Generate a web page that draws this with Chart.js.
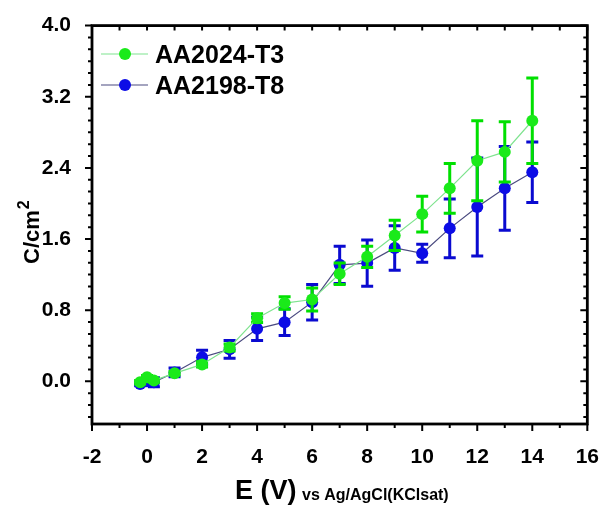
<!DOCTYPE html>
<html>
<head>
<meta charset="utf-8">
<script src="https://cdn.jsdelivr.net/npm/chart.js@4.4.1/dist/chart.umd.min.js"></script>
<style>
  html, body { margin: 0; padding: 0; background: #fff; }
  #wrap { position: relative; width: 612px; height: 513px; }
</style>
</head>
<body>
<div id="wrap"><canvas id="chart" width="612" height="513"></canvas></div>
<script>
// data
const potentials = [-0.25, 0, 0.25, 1, 2, 3, 4, 5, 6, 7, 8, 9, 10, 11, 12, 13, 14];
const cAA2024 = [-0.01, 0.045, 0.01, 0.09, 0.19, 0.38, 0.71, 0.88, 0.92, 1.21, 1.40, 1.64, 1.88, 2.17, 2.48, 2.58, 2.93];
const errAA2024 = [0.02, 0.02, 0.02, 0.02, 0.03, 0.04, 0.05, 0.07, 0.13, 0.12, 0.12, 0.17, 0.20, 0.28, 0.45, 0.34, 0.48];
const cAA2198 = [-0.03, 0.0, -0.01, 0.10, 0.27, 0.36, 0.59, 0.665, 0.89, 1.31, 1.33, 1.50, 1.44, 1.72, 1.96, 2.17, 2.35];
const errAA2198 = [0.02, 0.02, 0.05, 0.05, 0.08, 0.10, 0.13, 0.15, 0.20, 0.21, 0.26, 0.25, 0.10, 0.33, 0.55, 0.47, 0.34];
const xTicks = [-2, 0, 2, 4, 6, 8, 10, 12, 14, 16];
const yTicks = [0.0, 0.8, 1.6, 2.4, 3.2, 4.0];
const seriesNames = ['AA2024-T3', 'AA2198-T8'];

const FONT = "'Liberation Sans', Arial, sans-serif";
const GREEN = '#1aea1a';
const BLUE = '#0c0ce6';

const toPoints = (ys) => ys.map((y, i) => ({ x: potentials[i], y: y }));

// error bars, drawn under each dataset's own points
const errorBars = {
  id: 'errorBars',
  beforeDatasetDraw(chart, args) {
    const ds = chart.data.datasets[args.index];
    if (!ds.errors) return;
    const ctx = chart.ctx, xs = chart.scales.x, ys = chart.scales.y;
    ctx.save();
    ctx.strokeStyle = ds.errColor;
    ctx.lineWidth = 3;
    ds.data.forEach((p, i) => {
      const e = ds.errors[i];
      const px = xs.getPixelForValue(p.x);
      const top = ys.getPixelForValue(p.y + e);
      const bot = ys.getPixelForValue(p.y - e);
      ctx.beginPath();
      ctx.moveTo(px, top); ctx.lineTo(px, bot);
      ctx.moveTo(px - 6, top); ctx.lineTo(px + 6, top);
      ctx.moveTo(px - 6, bot); ctx.lineTo(px + 6, bot);
      ctx.stroke();
    });
    ctx.restore();
  }
};

// box frame, minor ticks, legend and axis titles
const decor = {
  id: 'decor',
  afterDraw(chart) {
    const ctx = chart.ctx, a = chart.chartArea;
    const xs = chart.scales.x, ys = chart.scales.y;
    ctx.save();
    ctx.strokeStyle = '#000';
    ctx.lineWidth = 2.8;
    ctx.strokeRect(a.left, a.top, a.right - a.left, a.bottom - a.top);

    ctx.lineWidth = 2;
    ctx.beginPath();
    // x ticks
    for (let v = -2; v <= 16; v++) {
      const px = xs.getPixelForValue(v);
      const major = v % 2 === 0;
      const len = major ? 7 : 4;
      ctx.moveTo(px, a.bottom); ctx.lineTo(px, a.bottom + len);
      ctx.moveTo(px, a.top); ctx.lineTo(px, a.top + 5);
    }
    // y ticks (6 subdivisions per major step)
    for (let k = -3; k <= 30; k++) {
      const v = k * 0.8 / 6;
      if (v < ys.min || v > ys.max) continue;
      const py = ys.getPixelForValue(v);
      const major = k % 6 === 0;
      const len = major ? 7 : 4;
      ctx.moveTo(a.left, py); ctx.lineTo(a.left - len, py);
      ctx.moveTo(a.right, py); ctx.lineTo(a.right - len, py);
    }
    ctx.stroke();

    // legend
    const rows = [
      { y: 54, line: '#7fe38f', fill: GREEN, name: seriesNames[0] },
      { y: 85, line: '#4b4b80', fill: BLUE, name: seriesNames[1] }
    ];
    rows.forEach(r => {
      ctx.strokeStyle = r.line;
      ctx.lineWidth = 1.2;
      ctx.beginPath();
      ctx.moveTo(101, r.y); ctx.lineTo(148, r.y);
      ctx.stroke();
      ctx.fillStyle = r.fill;
      ctx.beginPath();
      ctx.arc(125, r.y, 6, 0, Math.PI * 2);
      ctx.fill();
      ctx.fillStyle = '#000';
      ctx.font = 'bold 25px ' + FONT;
      ctx.textBaseline = 'alphabetic';
      ctx.textAlign = 'left';
      ctx.fillText(r.name, 155, r.y + 9);
    });

    // x title with subscript
    ctx.fillStyle = '#000';
    ctx.font = 'bold 27px ' + FONT;
    ctx.fillText('E (V)', 235, 499);
    ctx.font = 'bold 16px ' + FONT;
    ctx.fillText('vs Ag/AgCl(KClsat)', 302, 500);

    // y title with superscript
    ctx.translate(39, 264);
    ctx.rotate(-Math.PI / 2);
    ctx.font = 'bold 22px ' + FONT;
    ctx.fillText('C/cm', 0, 0);
    const w = ctx.measureText('C/cm').width;
    ctx.font = 'bold 16px ' + FONT;
    ctx.fillText('2', w + 1, -10);
    ctx.restore();
  }
};

const ctx = document.getElementById('chart').getContext('2d');
new Chart(ctx, {
  type: 'line',
  data: {
    datasets: [
      {
        label: seriesNames[0],
        data: toPoints(cAA2024),
        errors: errAA2024,
        errColor: '#00e000',
        borderColor: '#7fe38f',
        borderWidth: 1.2,
        backgroundColor: GREEN,
        pointBackgroundColor: GREEN,
        pointBorderWidth: 0,
        pointRadius: 6,
        tension: 0
      },
      {
        label: seriesNames[1],
        data: toPoints(cAA2198),
        errors: errAA2198,
        errColor: '#0a0ad0',
        borderColor: '#4b4b80',
        borderWidth: 1.2,
        backgroundColor: BLUE,
        pointBackgroundColor: BLUE,
        pointBorderWidth: 0,
        pointRadius: 6,
        tension: 0
      }
    ]
  },
  options: {
    responsive: false,
    animation: false,
    layout: { padding: { left: 0, top: 20, right: 22, bottom: 0 } },
    plugins: {
      legend: { display: false },
      tooltip: { enabled: false }
    },
    scales: {
      x: {
        type: 'linear',
        min: -2,
        max: 16,
        afterBuildTicks: s => { s.ticks = xTicks.map(v => ({ value: v })); },
        afterFit: s => { s.height = 89; },
        grid: { display: false },
        border: { display: false },
        ticks: {
          autoSkip: false,
          maxRotation: 0,
          padding: 13,
          color: '#000',
          font: { family: FONT, size: 21, weight: 'bold' },
          callback: v => String(v)
        }
      },
      y: {
        type: 'linear',
        min: -0.48,
        max: 4.0,
        afterBuildTicks: s => { s.ticks = yTicks.map(v => ({ value: v })); },
        afterFit: s => { s.width = 92; },
        grid: { display: false },
        border: { display: false },
        ticks: {
          padding: 13,
          color: '#000',
          font: { family: FONT, size: 21, weight: 'bold' },
          callback: v => v.toFixed(1)
        }
      }
    }
  },
  plugins: [errorBars, decor]
});
</script>
</body>
</html>
